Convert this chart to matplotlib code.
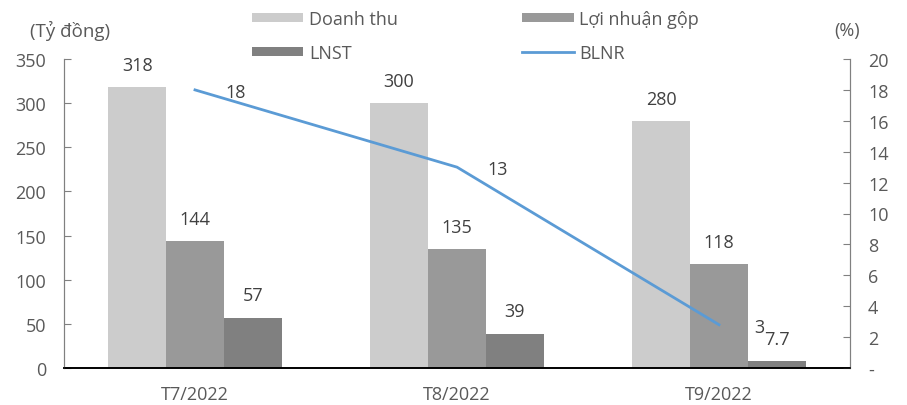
import matplotlib
matplotlib.use("Agg")
import matplotlib.pyplot as plt
import numpy as np

categories = ["T7/2022", "T8/2022", "T9/2022"]
doanh_thu = [318, 300, 280]
loi_nhuan_gop = [144, 135, 118]
lnst = [57, 39, 7.7]
blnr = [18, 13, 2.8]
left_ticks = [0, 50, 100, 150, 200, 250, 300, 350]
right_ticks = [0, 2, 4, 6, 8, 10, 12, 14, 16, 18, 20]
right_tick_labels = ["-", "2", "4", "6", "8", "10", "12", "14", "16", "18", "20"]

plt.rcParams['font.family'] = ['Open Sans', 'DejaVu Sans']
txt = "#404040"
tick_c = "#595959"
fs = 13

fig = plt.figure(figsize=(9.07, 4.06), dpi=100)
ax = fig.add_axes([64/907, 37/406, (850-64)/907, (369-60)/406])
ax2 = ax.twinx()

x = np.arange(len(categories))
w = 0.221
b1 = ax.bar(x - w, doanh_thu, w, color="#CCCCCC", label="Doanh thu")
b2 = ax.bar(x, loi_nhuan_gop, w, color="#999999", label="Lợi nhuận gộp")
b3 = ax.bar(x + w, lnst, w, color="#808080", label="LNST")

def fmt(v):
    return f"{v:g}"

for bars, vals in [(b1, doanh_thu), (b2, loi_nhuan_gop), (b3, lnst)]:
    for r, v in zip(bars, vals):
        ax.annotate(fmt(v), (r.get_x() + r.get_width()/2, v), xytext=(0, 16),
                    textcoords="offset points", ha="center", va="center",
                    fontsize=fs, color=txt)

ln, = ax2.plot(x, blnr, color="#5B9BD5", lw=2, label="BLNR")
for xi, v in zip(x, blnr):
    ax2.annotate(f"{v:.0f}", (xi, v), xytext=(29, -1.5), textcoords="offset points",
                 ha="center", va="center", fontsize=fs, color=txt)

ax.set_xlim(-0.5, 2.5)
ax.set_ylim(0, 350)
ax2.set_ylim(0, 20)
ax.set_yticks(left_ticks)
ax2.set_yticks(right_ticks)
ax2.set_yticklabels(right_tick_labels)
ax.set_xticks(x)
ax.set_xticklabels(categories)

for a in (ax, ax2):
    a.spines["top"].set_visible(False)
    a.spines["left"].set_color("#808080")
    a.spines["right"].set_color("#808080")
    a.spines["bottom"].set_color("black")
    a.spines["bottom"].set_linewidth(1.2)

ax.tick_params(axis="y", direction="in", length=5, color="#808080",
               labelsize=fs, labelcolor=tick_c, pad=13)
ax2.tick_params(axis="y", direction="in", length=5, color="#808080",
                labelsize=fs, labelcolor=tick_c, pad=13)
ax.tick_params(axis="x", length=0, labelsize=fs, labelcolor=tick_c, pad=12)

fig.text(30/907, 1 - 31/406, "(Tỷ đồng)", fontsize=fs + 0.5, color=tick_c, ha="left", va="center")
fig.text(847/907, 1 - 31/406, "(%)", fontsize=fs, color=tick_c, ha="center", va="center")

handles = [b1, b2, b3, ln]
labels = ["Doanh thu", "Lợi nhuận gộp", "LNST", "BLNR"]
order = [0, 2, 1, 3]
fig.legend([handles[i] for i in order], [labels[i] for i in order], ncol=2,
           loc="center left", bbox_to_anchor=(252/907, 1 - 37/406), frameon=False,
           fontsize=fs, labelcolor=tick_c, handlelength=2.85, handleheight=0.4,
           columnspacing=6.9, handletextpad=0.3, labelspacing=0.85,
           borderpad=0, borderaxespad=0)

fig.savefig("out.png", dpi=100)
